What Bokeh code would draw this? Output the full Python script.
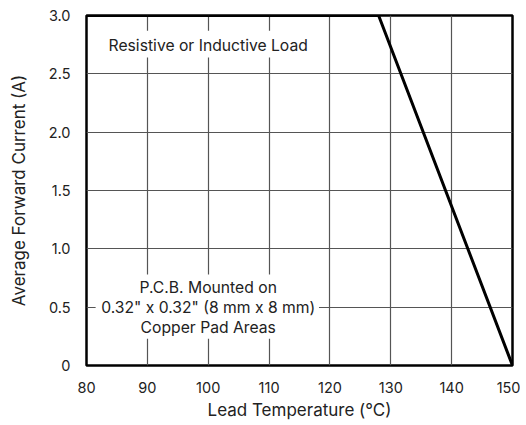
from bokeh.plotting import figure
from bokeh.models import FixedTicker, Range1d
from bokeh.core.properties import value
from bokeh.embed import file_html
from bokeh.resources import INLINE

# Derating curve
temp = [80, 128, 150]
current = [3.0, 3.0, 0.0]

x_ticks = [80, 90, 100, 110, 120, 130, 140, 150]
y_ticks = [0, 0.5, 1.0, 1.5, 2.0, 2.5, 3.0]
y_tick_labels = ["0", "0.5", "1.0", "1.5", "2.0", "2.5", "3.0"]

note_top = "Resistive or Inductive Load"
note_bottom = ["P.C.B. Mounted on", "0.32\" x 0.32\" (8 mm x 8 mm)", "Copper Pad Areas"]

FONT = "Inter"
TXT = "#222222"

p = figure(width=520, height=422, output_backend="svg", toolbar_location=None,
           x_range=Range1d(80, 150), y_range=Range1d(0, 3.0),
           min_border_left=86, min_border_right=8, min_border_top=15, min_border_bottom=56)

p.outline_line_color = "black"
p.outline_line_width = 2.5
p.background_fill_color = "white"
p.border_fill_color = "white"

for ax in (p.xaxis[0], p.yaxis[0]):
    ax.axis_line_color = None
    ax.major_tick_line_color = None
    ax.minor_tick_line_color = None
    ax.major_label_text_font = FONT
    ax.major_label_text_font_size = "14.5px"
    ax.major_label_text_color = TXT
    ax.axis_label_text_font = FONT
    ax.axis_label_text_font_size = "17px"
    ax.axis_label_text_font_style = "normal"
    ax.axis_label_text_color = TXT

p.xaxis.major_label_standoff = 10
p.yaxis.major_label_standoff = 10
p.xaxis.ticker = FixedTicker(ticks=x_ticks)
p.yaxis.ticker = FixedTicker(ticks=y_ticks)
p.yaxis.major_label_overrides = {t: l for t, l in zip(y_ticks, y_tick_labels)}
p.xaxis.axis_label = "Lead Temperature (°C)"
p.yaxis.axis_label = "Average Forward Current (A)"
p.xaxis.axis_label_standoff = 4
p.yaxis.axis_label_standoff = 17

p.xgrid.ticker = FixedTicker(ticks=x_ticks)
p.ygrid.ticker = FixedTicker(ticks=y_ticks)
for g in (p.xgrid[0], p.ygrid[0]):
    g.grid_line_color = "#555555"
    g.grid_line_width = 1.2

# white boxes behind notes
p.quad(left=[82.0, 81.5], right=[117.5, 118.2], bottom=[2.64, 0.23], top=[2.87, 0.78],
       fill_color="white", line_color=None)

p.line(temp, current, line_color="black", line_width=3)

p.text(x=[100], y=[2.74], text=[note_top], text_font=value(FONT), text_font_size="15.7px",
       text_align="center", text_baseline="middle", text_color=TXT)
p.text(x=[100, 100, 100], y=[0.665, 0.499, 0.327], text=note_bottom, text_font=value(FONT),
       text_font_size="15.7px", text_align="center", text_baseline="middle", text_color=TXT)

open("out.html", "w").write(file_html(p, INLINE))
